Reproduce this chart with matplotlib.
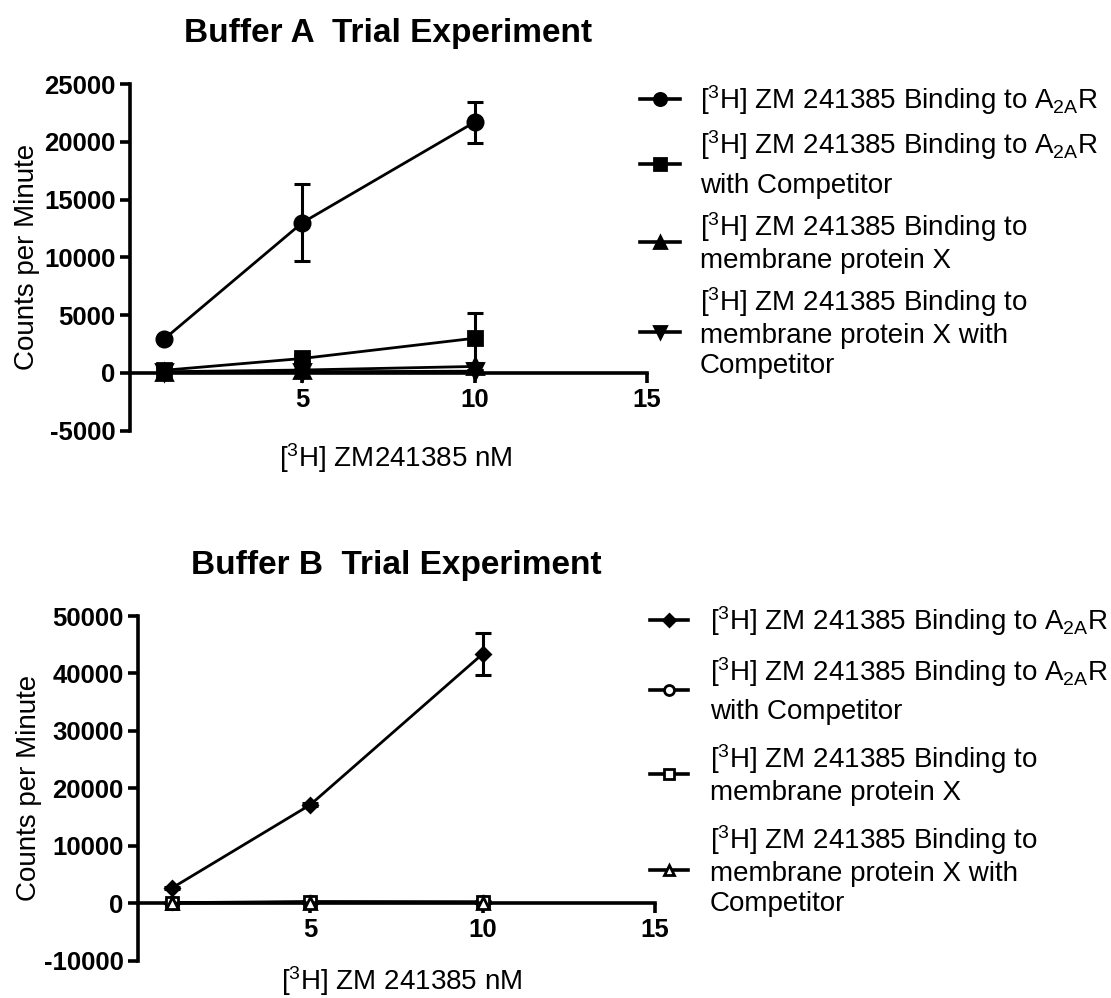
import matplotlib
matplotlib.use("Agg")
import matplotlib.pyplot as plt

plt.rcParams['font.family'] = ['Liberation Sans', 'DejaVu Sans']
plt.rcParams['mathtext.fontset'] = 'custom'
plt.rcParams['mathtext.rm'] = 'Liberation Sans'
plt.rcParams['mathtext.it'] = 'Liberation Sans:italic'
plt.rcParams['mathtext.bf'] = 'Liberation Sans:bold'
plt.rcParams['axes.unicode_minus'] = False

# concentrations of [3H] ZM241385 (nM)
conc = [1, 5, 10]

# Buffer A: means and SD (counts per minute)
a_a2ar = [2950, 13000, 21700]
a_a2ar_sd = [150, 3340, 1780]
a_a2ar_comp = [230, 1250, 3000]
a_a2ar_comp_sd = [100, 300, 2200]
a_memx = [100, 250, 560]
a_memx_sd = [50, 100, 300]
a_memx_comp = [50, 100, 150]
a_memx_comp_sd = [30, 50, 80]

# Buffer B: means and SD (counts per minute)
b_a2ar = [2700, 17150, 43400]
b_a2ar_sd = [200, 300, 3700]
b_a2ar_comp = [100, 300, 250]
b_a2ar_comp_sd = [50, 100, 100]
b_memx = [50, 200, 200]
b_memx_sd = [30, 80, 80]
b_memx_comp = [30, 100, 100]
b_memx_comp_sd = [20, 50, 50]

lab1 = '[$^{3}$H] ZM 241385 Binding to A$_{\\mathrm{2A}}$R'
lab2 = '[$^{3}$H] ZM 241385 Binding to A$_{\\mathrm{2A}}$R\nwith Competitor'
lab3 = '[$^{3}$H] ZM 241385 Binding to\nmembrane protein X'
lab4 = '[$^{3}$H] ZM 241385 Binding to\nmembrane protein X with\nCompetitor'

W, H = 1111, 998
fig = plt.figure(figsize=(W / 100, H / 100), dpi=100)

ax1 = fig.add_axes([130 / W, 1 - 430.7 / H, 517 / W, 346.7 / H])
ax2 = fig.add_axes([138 / W, 1 - 960.7 / H, 517 / W, 344.7 / H])


def style_axes(ax):
    ax.spines['top'].set_visible(False)
    ax.spines['right'].set_visible(False)
    ax.spines['bottom'].set_position(('data', 0))
    for s in ('left', 'bottom'):
        ax.spines[s].set_linewidth(2.6)
    ax.tick_params(width=2.6, length=7, labelsize=18.5, direction='out')
    for t in ax.get_xticklabels() + ax.get_yticklabels():
        t.set_fontweight('bold')
    ax.set_xlim(0, 15)
    ax.set_xticks([5, 10, 15])


def series(ax, y, sd, marker, ms, label, filled=True):
    ax.errorbar(conc, y, yerr=sd, fmt='none', ecolor='black',
                elinewidth=2.2, capsize=5.5, capthick=2.2, zorder=3)
    ax.plot(conc, y, color='black', lw=2, marker=marker, ms=ms,
            markerfacecolor='black' if filled else 'white',
            markeredgecolor='black', markeredgewidth=2,
            label=label, zorder=4, clip_on=False)


def add_legend(ax, x0, y0, hl, hp, ls, gap2):
    leg = ax.legend(loc='upper left', bbox_to_anchor=(x0 / W, 1 - y0 / H),
                    bbox_transform=fig.transFigure, frameon=False, fontsize=20,
                    borderpad=0, borderaxespad=0, handlelength=hl,
                    handletextpad=hp, labelspacing=ls, numpoints=1,
                    markerscale=0.8)
    for h in leg.legend_handles:
        h.set_linewidth(2.6)
    # the subscript line needs a bit more room
    leg.get_texts()[1].set_linespacing(gap2)
    return leg


# Buffer A
series(ax1, a_a2ar, a_a2ar_sd, 'o', 11, lab1)
series(ax1, a_a2ar_comp, a_a2ar_comp_sd, 's', 10, lab2)
series(ax1, a_memx, a_memx_sd, '^', 11, lab3)
series(ax1, a_memx_comp, a_memx_comp_sd, 'v', 11, lab4)
ax1.set_ylim(-5000, 25000)
ax1.set_yticks(range(-5000, 25001, 5000))
style_axes(ax1)
ax1.set_title('Buffer A  Trial Experiment', fontsize=24, fontweight='bold', pad=30)
ax1.set_xlabel('[$^{3}$H] ZM241385 nM', fontsize=20)
ax1.xaxis.set_label_coords(0.515, -0.03)
ax1.set_ylabel('Counts per Minute', fontsize=20)
ax1.yaxis.set_label_coords(-0.175, 0.5)
add_legend(ax1, 640, 83, 1.45, 0.7, 0.4, 1.55)

# Buffer B
series(ax2, b_a2ar, b_a2ar_sd, 'D', 7.5, lab1)
series(ax2, b_a2ar_comp, b_a2ar_comp_sd, 'o', 9, lab2, filled=False)
series(ax2, b_memx, b_memx_sd, 's', 9, lab3, filled=False)
series(ax2, b_memx_comp, b_memx_comp_sd, '^', 9, lab4, filled=False)
ax2.set_ylim(-10000, 50000)
ax2.set_yticks(range(-10000, 50001, 10000))
style_axes(ax2)
ax2.set_title('Buffer B  Trial Experiment', fontsize=24, fontweight='bold', pad=30)
ax2.set_xlabel('[$^{3}$H] ZM 241385 nM', fontsize=20)
ax2.xaxis.set_label_coords(0.51, -0.01)
ax2.set_ylabel('Counts per Minute', fontsize=20)
ax2.yaxis.set_label_coords(-0.185, 0.5)
add_legend(ax2, 650, 604, 1.35, 0.8, 0.62, 1.5)

fig.savefig('out.png', dpi=100)
